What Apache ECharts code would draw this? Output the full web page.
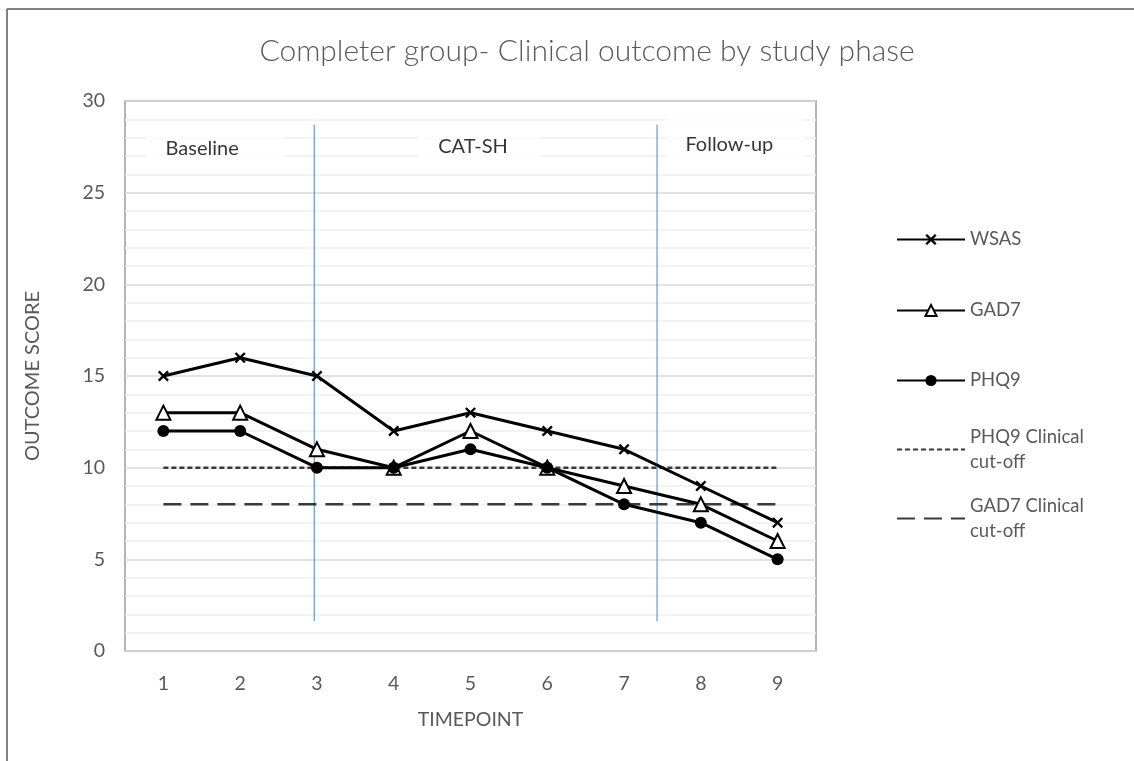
<!DOCTYPE html>
<html>
<head>
<meta charset="utf-8">
<script src="https://cdn.jsdelivr.net/npm/echarts@6/dist/echarts.min.js"></script>
<style>html,body{margin:0;padding:0;background:#fff}#c{width:1134px;height:761px}</style>
</head>
<body>
<div id="c"></div>
<script>
const categories = ['1','2','3','4','5','6','7','8','9'];
const wsas = [15,16,15,12,13,12,11,9,7];
const gad7 = [13,13,11,10,12,10,9,8,6];
const phq9 = [12,12,10,10,11,10,8,7,5];
const phq9Cutoff = [10,10,10,10,10,10,10,10,10];
const gad7Cutoff = [8,8,8,8,8,8,8,8,8];
const yTicks = {min:0, max:30, interval:5};
// phase boundaries (timepoint units) and phase label anchors
const phaseBoundaries = [2.965, 7.43];
const phaseSpan = [1.64, 28.7];
const phaseNames = ['Baseline','CAT-SH','Follow-up'];
const phaseX = [1.674, 5.117, 8.456];
const phaseY = [27.4, 27.5, 27.6];

const FONT = 'Lato, "Open Sans", sans-serif';
const GREY = '#595959';
const xPath = 'path://M0,1.5L1.5,0L5,3.5L8.5,0L10,1.5L6.5,5L10,8.5L8.5,10L5,6.5L1.5,10L0,8.5L3.5,5Z';
const phasePad = [[11,46,11,20],[11,33,11,20],[11,32,25,19]];

const chart = echarts.init(document.getElementById('c'), null, {renderer:'canvas'});

const boundarySeries = phaseBoundaries.map((b,i)=>({
  type:'line', name:'boundary'+i, xAxisIndex:1, yAxisIndex:0,
  data:[[b,phaseSpan[0]],[b,phaseSpan[1]]],
  symbol:'none', silent:true, z:3,
  lineStyle:{color:'#5b9bd5', width:1.2}
}));

const lineLegend = (name, top, twoLine) => ({
  data:[twoLine ? {name:name, itemStyle:{opacity:0}} : name],
  left:896, top:top, padding:0, orient:'vertical',
  itemWidth:68, itemHeight:14, selectedMode:false,
  formatter: twoLine ? (n => n.replace(' cut-off','\ncut-off')) : undefined,
  textStyle:{color:GREY, fontSize:18.5, fontFamily:FONT, lineHeight:25,
    padding: twoLine ? [25,0,0,0] : 0}
});

chart.setOption({
  animation:false,
  backgroundColor:'#fff',
  title:{text:'Completer group- Clinical outcome by study phase', left:582, top:31, textAlign:'center',
    textStyle:{color:GREY, fontSize:30, fontWeight:300, fontFamily:FONT}},
  graphic:[
    {type:'line', shape:{x1:7,y1:9,x2:7,y2:761}, style:{stroke:'#595959', lineWidth:1.5}, silent:true},
    {type:'line', shape:{x1:7,y1:9,x2:1134,y2:9}, style:{stroke:'#595959', lineWidth:1.5}, silent:true}
  ],
  legend:[
    lineLegend('WSAS', 227, false),
    lineLegend('GAD7', 298, false),
    lineLegend('PHQ9', 368, false),
    lineLegend('PHQ9 Clinical cut-off', 412, true),
    lineLegend('GAD7 Clinical cut-off', 481, true)
  ],
  grid:{left:125, right:318, top:101, bottom:110, show:true, borderColor:'#9a9a9a', borderWidth:1.5},
  xAxis:[
    {type:'category', data:categories, boundaryGap:true,
     axisTick:{show:false}, axisLine:{lineStyle:{color:'#d0d0d0', width:1.5}},
     axisLabel:{color:GREY, fontSize:19.5, fontFamily:FONT, margin:23},
     name:'TIMEPOINT', nameLocation:'middle', nameGap:59,
     nameTextStyle:{color:GREY, fontSize:19.5, fontFamily:FONT}},
    {type:'value', min:0.5, max:9.5, show:false}
  ],
  yAxis:{type:'value', min:yTicks.min, max:yTicks.max, interval:yTicks.interval,
    axisLine:{show:false}, axisTick:{show:false},
    axisLabel:{color:GREY, fontSize:19.5, fontFamily:FONT, margin:20},
    splitLine:{lineStyle:{color:'#d9d9d9', width:1.5}},
    minorTick:{show:false, splitNumber:5},
    minorSplitLine:{show:true, lineStyle:{color:'#f0f0f0', width:1.5}},
    name:'OUTCOME SCORE', nameLocation:'middle', nameGap:82,
    nameTextStyle:{color:GREY, fontSize:20, fontFamily:FONT}},
  series:[
    ...boundarySeries,
    {type:'scatter', name:'phases', xAxisIndex:1, yAxisIndex:0, silent:true, z:4,
     symbolSize:0,
     data: phaseNames.map((n,i)=>({name:n, value:[phaseX[i], phaseY[i]],
       label:{padding:phasePad[i]}})),
     label:{show:true, position:'inside', formatter:p=>p.name, color:'#000',
       fontSize:20, fontFamily:FONT, backgroundColor:'#fff', lineHeight:20}},
    {type:'line', name:'PHQ9 Clinical cut-off', data:phq9Cutoff, symbol:'none', z:5,
     lineStyle:{color:'#3a3a3a', width:2.5, type:[5,3]}, itemStyle:{color:'#3a3a3a'}},
    {type:'line', name:'GAD7 Clinical cut-off', data:gad7Cutoff, symbol:'none', z:5,
     lineStyle:{color:'#3a3a3a', width:2.5, type:[18,9]}, itemStyle:{color:'#3a3a3a'}},
    {type:'line', name:'WSAS', data:wsas, symbol:xPath, symbolSize:11, z:6,
     lineStyle:{color:'#000', width:3}, itemStyle:{color:'#000'}},
    {type:'line', name:'GAD7', data:gad7, symbol:'emptyTriangle', symbolSize:14, z:6,
     lineStyle:{color:'#000', width:3}, itemStyle:{color:'#000', borderWidth:2.5}},
    {type:'line', name:'PHQ9', data:phq9, symbol:'circle', symbolSize:12, z:6,
     lineStyle:{color:'#000', width:3}, itemStyle:{color:'#000'}}
  ]
});
</script>
</body>
</html>
